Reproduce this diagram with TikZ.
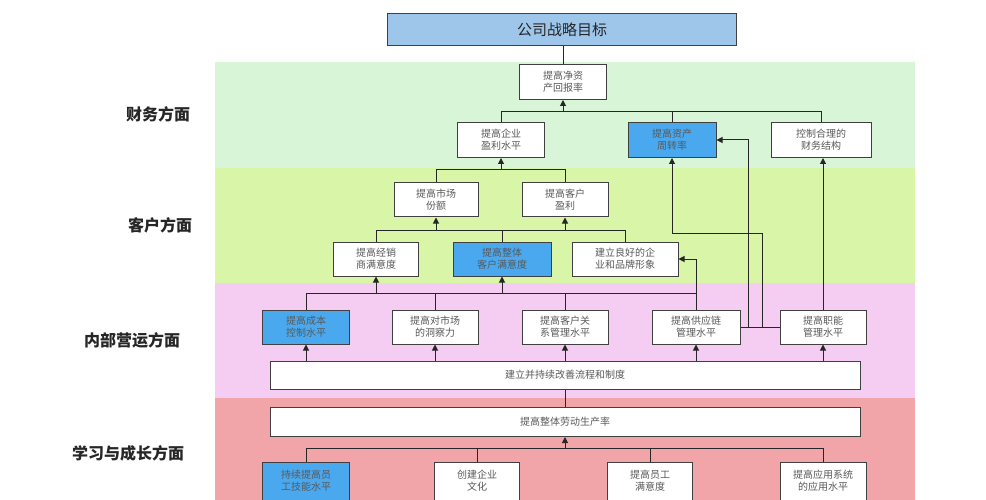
\documentclass[tikz,border=0pt]{standalone}
\usepackage{fontspec}
\newfontfamily\cjk{Noto Sans CJK SC}
\usetikzlibrary{arrows.meta}
\definecolor{fin}{HTML}{D8F5D8}
\definecolor{cus}{HTML}{D8F5A8}
\definecolor{intl}{HTML}{F5CDF2}
\definecolor{lrn}{HTML}{F2A5A8}
\definecolor{hl}{HTML}{4AA8EE}
\definecolor{ttl}{HTML}{9DC6EA}
\begin{document}
\begin{tikzpicture}[x=1pt,y=-1pt,
 box/.style={draw=black!75,line width=1pt,fill=white,font=\cjk\fontsize{10}{12}\selectfont,text=black!65,align=center,inner sep=1pt},
 hbox/.style={box,fill=hl,text=black!65},
 lab/.style={font=\cjk\bfseries\fontsize{16}{19}\selectfont,text=black!85},
 ln/.style={draw=black!85,line width=1pt},
 ar/.style={ln,-{Triangle[width=6pt,length=6pt]}}]
\useasboundingbox (0,0) rectangle (986,500);
\fill[white] (0,0) rectangle (986,500);
\fill[fin] (215,62) rectangle (915,168);
\fill[cus] (215,168) rectangle (915,283);
\fill[intl] (215,283) rectangle (915,398);
\fill[lrn] (215,398) rectangle (915,500);
\node[lab] (l1) at (158,114) {财务方面};
\node[lab] (l2) at (160,225) {客户方面};
\node[lab] (l3) at (132,340) {内部营运方面};
\node[lab] (l4) at (128,453) {学习与成长方面};
\node[box,fill=ttl,text=black!85,font=\cjk\fontsize{15}{18}\selectfont,minimum width=349,minimum height=32] (t) at (562,30) {公司战略目标};
% finance
\node[box,minimum width=87,minimum height=35] (f0) at (563,82) {提高净资\\产回报率};
\node[box,minimum width=87,minimum height=35] (f1) at (501,140) {提高企业\\盈利水平};
\node[hbox,minimum width=88,minimum height=35] (f2) at (672,140) {提高资产\\周转率};
\node[box,minimum width=100,minimum height=35] (f3) at (821,140) {控制合理的\\财务结构};
% customer
\node[box,minimum width=84,minimum height=34] (c1) at (436,200) {提高市场\\份额};
\node[box,minimum width=86,minimum height=34] (c2) at (565,200) {提高客户\\盈利};
\node[box,minimum width=85,minimum height=34] (c3) at (376,259) {提高经销\\商满意度};
\node[hbox,minimum width=98,minimum height=34] (c4) at (502,259) {提高整体\\客户满意度};
\node[box,minimum width=106,minimum height=34] (c5) at (625,259) {建立良好的企\\业和品牌形象};
% internal
\node[hbox,minimum width=87,minimum height=34] (i1) at (306,327) {提高成本\\控制水平};
\node[box,minimum width=86,minimum height=34] (i2) at (435,327) {提高对市场\\的洞察力};
\node[box,minimum width=86,minimum height=34] (i3) at (565,327) {提高客户关\\系管理水平};
\node[box,minimum width=88,minimum height=34] (i4) at (696,327) {提高供应链\\管理水平};
\node[box,minimum width=86,minimum height=34] (i5) at (823,327) {提高职能\\管理水平};
\node[box,minimum width=590,minimum height=28] (p) at (565,375) {建立并持续改善流程和制度};
% learning
\node[box,minimum width=590,minimum height=29] (g) at (565,422) {提高整体劳动生产率};
\node[hbox,minimum width=87,minimum height=38] (b1) at (306,481) {持续提高员\\工技能水平};
\node[box,minimum width=85,minimum height=38] (b2) at (477,481) {创建企业\\文化};
\node[box,minimum width=85,minimum height=38] (b3) at (650,481) {提高员工\\满意度};
\node[box,minimum width=86,minimum height=38] (b4) at (823,481) {提高应用系统\\的应用水平};
% connectors
\draw[ln] (t.south -| f0) -- (f0.north);
\draw[ln] (f1.north) |- (f3.north |- 0,112) -- (f3.north);
\draw[ln] (f2.north) -- (f2.north |- 0,112);
\draw[ar] (f0.south |- 0,112) -- (f0.south);
\draw[ln] (c1.north) |- (c2.north |- 0,170) -- (c2.north);
\draw[ar] (f1.south |- 0,170) -- (f1.south);
\draw[ln] (c3.north) |- (c5.north |- 0,230) -- (c5.north);
\draw[ln] (c4.north) -- (c4.north |- 0,230);
\draw[ar] (c1.south |- 0,230) -- (c1.south);
\draw[ar] (c2.south |- 0,230) -- (c2.south);
\draw[ln] (i1.north) |- (i4.north |- 0,293);
\draw[ln] (i2.north) -- (i2.north |- 0,293);
\draw[ln] (i3.north) -- (i3.north |- 0,293);
\draw[ar] (c3.south |- 0,293) -- (c3.south);
\draw[ar] (c4.south |- 0,293) -- (c4.south);
\draw[ar] (i4.north) |- (c5.east);
\draw[ln] (i4.east) -- (i5.west);
\coordinate (v1) at (748,327);
\coordinate (v2) at (762,327);
\draw[ar] (v1) |- (f2.east);
\draw[ar] (v2) |- (672,233) -- (f2.south);
\draw[ar] (i5.north) -- (i5.north |- f3.south);
\foreach \n in {i1,i2,i3,i4,i5} \draw[ar] (p.north -| \n) -- (\n.south);
\draw[ln] (g.north) -- (p.south);
\draw[ln] (b1.north) |- (b4.north |- 0,448) -- (b4.north);
\draw[ln] (b2.north) -- (b2.north |- 0,448);
\draw[ln] (b3.north) -- (b3.north |- 0,448);
\draw[ar] (g.south |- 0,448) -- (g.south);
\end{tikzpicture}
\end{document}
